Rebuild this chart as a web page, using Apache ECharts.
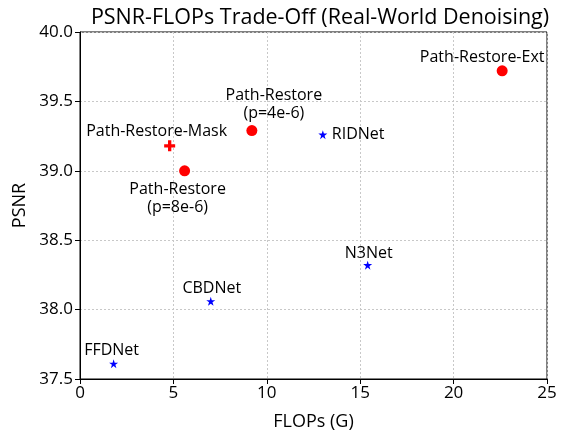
<!DOCTYPE html>
<html><head><meta charset="utf-8">
<script src="https://cdn.jsdelivr.net/npm/echarts@6/dist/echarts.min.js"></script>
<style>html,body{margin:0;padding:0;background:#fff}#c{width:569px;height:433px}</style>
</head><body><div id="c"></div>
<script>
const methods = ["Path-Restore-Ext","Path-Restore\n(p=4e-6)","RIDNet","Path-Restore-Mask","Path-Restore\n(p=8e-6)","N3Net","CBDNet","FFDNet"];
const flops = [22.6, 9.2, 13.0, 4.8, 5.6, 15.4, 7.0, 1.8];
const psnr = [39.72, 39.29, 39.26, 39.18, 39.00, 38.32, 38.06, 37.61];
const kinds = ["circle","circle","star","plus","circle","star","star","star"];
const xTicks = [0,5,10,15,20,25];
const yTicks = [37.5,38.0,38.5,39.0,39.5,40.0];

const FONT = "Open Sans";
const labelOffset = {
  "Path-Restore-Ext": [-20,-13],
  "Path-Restore\n(p=4e-6)": [22,-26],
  "RIDNet": [9,0],
  "Path-Restore-Mask": [-13,-14],
  "Path-Restore\n(p=8e-6)": [-7,28],
  "N3Net": [1,-12],
  "CBDNet": [1,-13],
  "FFDNet": [-2,-13]
};
const STAR = 'path://M50,0 L61.8,35.4 L100,35.4 L69.1,57.3 L80.9,93.5 L50,71.2 L19.1,93.5 L30.9,57.3 L0,35.4 L38.2,35.4 Z';
const PLUS = 'path://M35,0 L65,0 L65,35 L100,35 L100,65 L65,65 L65,100 L35,100 L35,65 L0,65 L0,35 L35,35 Z';
const symbols = {circle:'circle', star:STAR, plus:PLUS};
const colors = {circle:'#ff0000', star:'#0000ff', plus:'#ff0000'};
const sizes = {circle:11, star:9, plus:11};

const data = methods.map((m,i)=>({
  value:[flops[i], psnr[i]],
  name:m,
  symbol:symbols[kinds[i]],
  symbolSize:sizes[kinds[i]],
  itemStyle:{color:colors[kinds[i]], opacity:1},
  label:{show:true, position:'inside', offset:labelOffset[m], formatter:m, color:'#000',
    fontFamily:FONT, fontSize:16, lineHeight:18, align:(m==='RIDNet'?'left':'center'), verticalAlign:'middle'}
}));

const chart = echarts.init(document.getElementById('c'));
function mkAxis(extra){
  return Object.assign({
    type:'value',
    axisLine:{show:true, onZero:false, lineStyle:{color:'#000', width:1}},
    axisTick:{show:true, inside:false, length:5, lineStyle:{color:'#000'}},
    splitLine:{show:true, lineStyle:{color:'#c8c8c8', type:[2,2], width:1}},
    nameLocation:'middle',
    nameTextStyle:{color:'#000', fontFamily:FONT, fontSize:18, fontWeight:'normal'}
  }, extra);
}
chart.setOption({
  animation:false,
  textStyle:{fontFamily:FONT},
  title:{text:'PSNR-FLOPs Trade-Off (Real-World Denoising)', left:315, top:2, textAlign:'center',
    textStyle:{fontFamily:FONT, fontSize:21.5, fontWeight:'normal', color:'#000'}},
  grid:{left:80, right:22, top:32, bottom:54, show:true, borderColor:'#000', borderWidth:1, outerBoundsMode:'none', containLabel:false},
  xAxis:mkAxis({min:xTicks[0], max:xTicks[xTicks.length-1], interval:5,
    name:'FLOPs (G)', nameGap:34,
    axisLabel:{color:'#000', fontFamily:FONT, fontSize:17, margin:6}}),
  yAxis:mkAxis({min:yTicks[0], max:yTicks[yTicks.length-1], interval:0.5,
    name:'PSNR', nameGap:47,
    axisLabel:{color:'#000', fontFamily:FONT, fontSize:17, margin:7, formatter:v=>v.toFixed(1)}}),
  series:[{type:'scatter', data:data, z:3, emphasis:{disabled:true}}]
});
</script></body></html>
